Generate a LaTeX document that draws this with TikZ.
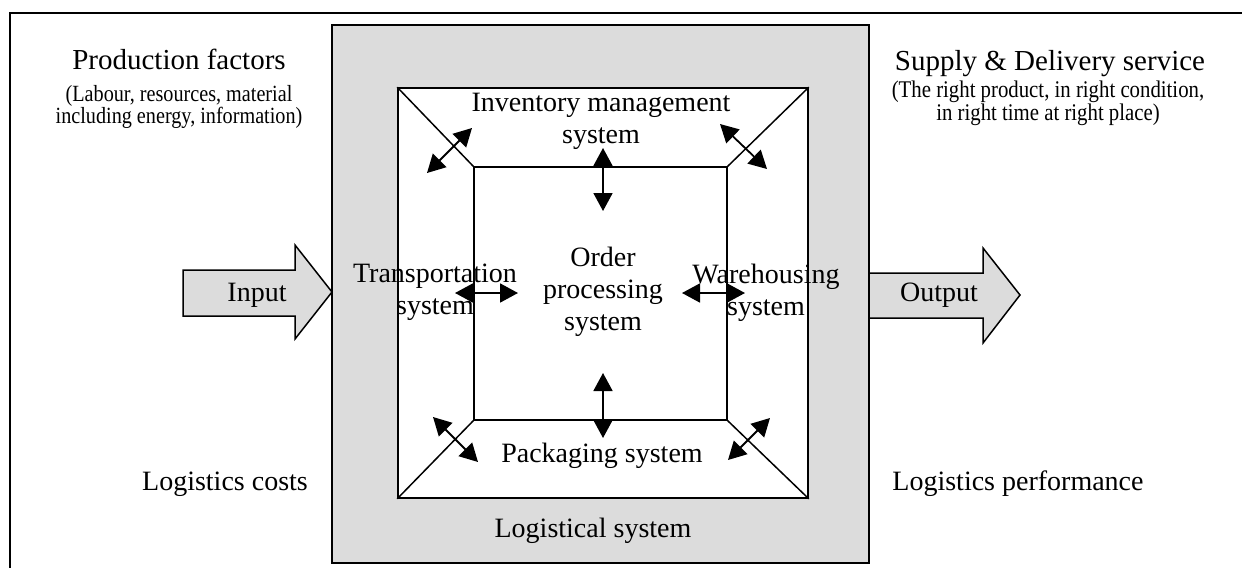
\documentclass[tikz,border=0pt]{standalone}
\usepackage{fontspec}
\setmainfont{Liberation Serif}
\newfontfamily\narrowserif[FakeStretch=0.87]{Liberation Serif}
\usetikzlibrary{arrows.meta}
\definecolor{panelgray}{RGB}{220,220,220}
\begin{document}
\begin{tikzpicture}[x=1pt,y=-1pt,
  txtitle/.style={font=\fontsize{29}{32}\selectfont, inner sep=0pt},
  txnote/.style={font=\narrowserif\fontsize{23.2}{21}\selectfont, align=center, inner sep=0pt},
  txlabel/.style={font=\fontsize{28}{32}\selectfont, align=center, inner sep=0pt},
  sqbox/.style={draw, line width=1.5pt, inner sep=0pt},
  duplex/.style={line width=1.8pt, {Triangle[length=18pt,width=19pt]}-{Triangle[length=18pt,width=19pt]}},
  fatarrow/.style={draw, line width=1.5pt, fill=panelgray, line join=miter},
  facet/.style={line width=1.5pt}
]
\useasboundingbox (0,0) rectangle (1242,568);

% frame around the whole figure
\coordinate (frameTR) at (1242,13);
\coordinate (frameTL) at (10,13);
\coordinate (frameBL) at (10,568);
\draw[line width=2.4pt] (frameTR) -- (frameTL) -- (frameBL);

% logistical system: grey panel, subsystem ring and central core
\node[sqbox, line width=1.8pt, fill=panelgray, minimum width=537pt, minimum height=538pt] (logsys) at (600.5,294) {};
\node[sqbox, fill=white, minimum width=410pt, minimum height=410pt] (ring) at (603,293) {};
\node[sqbox, minimum width=253pt, minimum height=253pt] (core) at (600.5,293.5) {};
\draw[facet] (ring.north west) -- (core.north west);
\draw[facet] (ring.north east) -- (core.north east);
\draw[facet] (ring.south west) -- (core.south west);
\draw[facet] (ring.south east) -- (core.south east);

% input and output arrows
\draw[fatarrow] (183,270) -- (295,270) -- (295,245) -- (332,292) -- (295,339) -- (295,316) -- (183,316) -- cycle;
\draw[fatarrow] (869,273) -- (983,273) -- (983,248) -- (1020,295) -- (983,343) -- (983,318) -- (869,318) -- cycle;
\node[txlabel, anchor=base] (input) at (257,301) {Input};
\node[txlabel, anchor=base] (output) at (939,301) {Output};

% subsystem labels
\node[txlabel] (inv) at (601,121) {Inventory management\\system};
\node[txlabel] (ops) at (603,292) {Order\\processing\\system};
\node[txlabel] (trans) at (435,292.5) {Transportation\\system};
\node[txlabel] (ware) at (766,292.5) {Warehousing\\system};
\node[txlabel, anchor=base] (pack) at (602,462) {Packaging system};
\node[txlabel, anchor=base] (lsys) at (593,537) {Logistical system};

% side captions
\node[txtitle, anchor=base] (pf) at (179,69) {Production factors};
\node[txnote] (pfnote) at (179,107) {(Labour, resources, material\\including energy, information)};
\node[txtitle, anchor=base] (sds) at (1050,70) {Supply \& Delivery service};
\node[txnote, font=\narrowserif\fontsize{23.9}{20}\selectfont] (sdsnote) at (1048,103) {(The right product, in right condition,\\in right time at right place)};
\node[txlabel, anchor=base] (costs) at (225,490) {Logistics costs};
\node[txlabel, anchor=base] (perf) at (1018,490) {Logistics performance};

% interactions between the subsystems
\coordinate (tmA) at (603,148);  \coordinate (tmB) at (603,211);
\coordinate (bmA) at (603,373);  \coordinate (bmB) at (603,438);
\coordinate (lmA) at (455,293);  \coordinate (lmB) at (518,293);
\coordinate (rmA) at (682,293);  \coordinate (rmB) at (745,293);
\coordinate (tlA) at (427,173);  \coordinate (tlB) at (472,128);
\coordinate (trA) at (720,124);  \coordinate (trB) at (767,169);
\coordinate (blA) at (433,417);  \coordinate (blB) at (478,462);
\coordinate (brA) at (770,418);  \coordinate (brB) at (728,460);
\draw[duplex] (tmA) -- (tmB);
\draw[duplex] (bmA) -- (bmB);
\draw[duplex] (lmA) -- (lmB);
\draw[duplex] (rmA) -- (rmB);
\draw[duplex] (tlA) -- (tlB);
\draw[duplex] (trA) -- (trB);
\draw[duplex] (blA) -- (blB);
\draw[duplex] (brA) -- (brB);
\end{tikzpicture}
\end{document}
